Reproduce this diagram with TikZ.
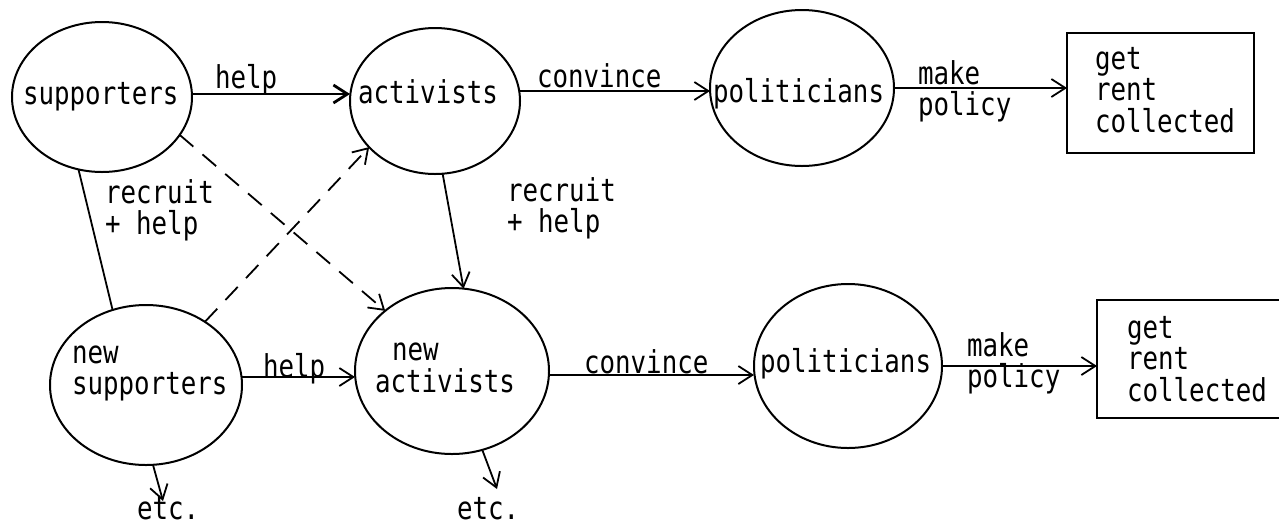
\documentclass[tikz,border=0pt]{standalone}
\usepackage{fontspec}
\setmainfont{DejaVu Sans Mono}[FakeStretch=0.82]
\usetikzlibrary{shapes.geometric,arrows.meta}
\newcommand{\ml}[1]{\vtop{\baselineskip=15.75pt\lineskiplimit=-30pt\lineskip=0pt\relax #1}}
\newcommand{\tx}[3]{\raisebox{#2}[0pt][0pt]{\makebox[0pt][l]{\hspace*{#1}#3}}}
\begin{document}
\begin{tikzpicture}[x=0.5pt,y=-0.5pt,
  every node/.style={font=\fontsize{15.75}{15.75}\selectfont, inner sep=0pt, outer sep=0pt},
  ell/.style={draw, ellipse, line width=1pt},
  rbox/.style={draw, rectangle, line width=1.2pt},
  conn/.style={line width=0.9pt},
  arr/.style={conn, -{Straight Barb[length=7pt,width=9pt]}},
  dsh/.style={arr, dash pattern=on 9pt off 6pt},
  lbl/.style={anchor=base west}
]
\fill[white] (0,0) rectangle (1279,526);
\useasboundingbox (0,0) rectangle (1279,526);

% circles
\node[ell, minimum width=90pt, minimum height=75pt] (sup) at (102,97) {\tx{-39.5pt}{-3.5pt}{supporters}};
\node[ell, minimum width=85pt, minimum height=73pt] (act) at (435,101) {\tx{-38.5pt}{-1pt}{activists}};
\node[ell, minimum width=92pt, minimum height=78pt] (pol) at (802,88) {\tx{-44.5pt}{-7pt}{politicians}};
\node[ell, minimum width=96pt, minimum height=80pt] (nsup) at (146,385) {\tx{-37pt}{11pt}{\ml{\hbox{new}\hbox{supporters}}}};
\node[ell, minimum width=97pt, minimum height=83pt] (nact) at (452,371) {\tx{-38.5pt}{5.25pt}{\ml{\hbox{\kern8.5pt new}\hbox{activists}}}};
\node[ell, minimum width=94pt, minimum height=82pt] (npol) at (848,366) {\tx{-44pt}{-3pt}{politicians}};

% boxes
\node[rbox, minimum width=93.5pt, minimum height=60pt] (boxT) at (1160.5,93) {\tx{-32.75pt}{12pt}{\ml{\hbox{get}\hbox{rent}\hbox{collected}}}};
\node[rbox, minimum width=96.5pt, minimum height=59pt] (boxB) at (1193.5,359) {\tx{-33.25pt}{10.5pt}{\ml{\hbox{get}\hbox{rent}\hbox{collected}}}};

% labels
\node[lbl] (helpT) at (215,88) {help};
\node[lbl] (convT) at (537,87) {convince};
\node[lbl] (mpT) at (918,84) {\ml{\hbox{make}\hbox{policy}}};
\node[lbl] (recL) at (105,203) {\ml{\hbox{recruit}\hbox{+ help}}};
\node[lbl] (recR) at (507,201) {\ml{\hbox{recruit}\hbox{+ help}}};
\node[lbl] (helpB) at (263,377) {help};
\node[lbl] (convB) at (584,373) {convince};
\node[lbl] (mpB) at (967,356) {\ml{\hbox{make}\hbox{policy}}};
\node[lbl] (etc1) at (137,519) {etc.};
\node[lbl] (etc2) at (457,519) {etc.};

% line heights
\coordinate (yA) at (0,94);
\coordinate (yB) at (0,91);
\coordinate (yC) at (0,88);
\coordinate (yD) at (0,377);
\coordinate (yE) at (0,375);
\coordinate (yF) at (0,366);
\coordinate (e1) at (163,501);
\coordinate (e2) at (497,489);

% connectors
\draw[arr, line width=1.4pt] (sup.east |- yA) -- (act.west |- yA);
\draw[arr] (act.east |- yB) -- (pol.west |- yB);
\draw[arr] (pol.east |- yC) -- (boxT.west |- yC);
\draw[conn] (sup.252) -- (nsup.114);
\draw[arr] (act.276) -- (nact.82);
\draw[dsh] (sup.334) -- (nact.138);
\draw[dsh] (nsup.47) -- (act.215);
\draw[arr] (nsup.east |- yD) -- (nact.west |- yD);
\draw[arr] (nact.east |- yE) -- (npol.west |- yE);
\draw[arr] (npol.east |- yF) -- (boxB.west |- yF);
\draw[arr] (nsup.275) -- (e1);
\draw[arr] (nact.291) -- (e2);
\end{tikzpicture}
\end{document}
